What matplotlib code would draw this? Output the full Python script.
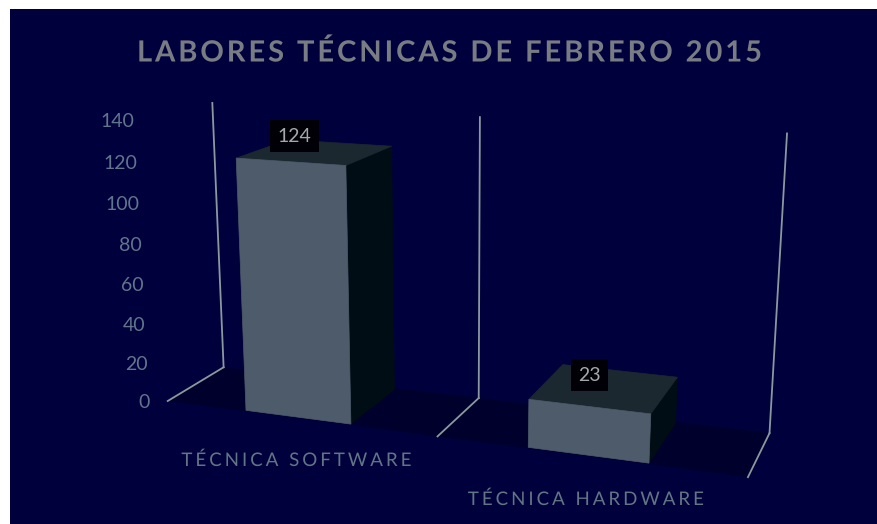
import numpy as np
import matplotlib
matplotlib.use("Agg")
import matplotlib.pyplot as plt
from matplotlib.patches import Polygon, Rectangle
from matplotlib.path import Path
from matplotlib.patheffects import AbstractPathEffect
from matplotlib.transforms import IdentityTransform

WIDTH, HEIGHT = 878, 524

title = "LABORES TÉCNICAS DE FEBRERO 2015"
categories = ["TÉCNICA SOFTWARE", "TÉCNICA HARDWARE"]
values = [124, 23]
ticks = [0, 20, 40, 60, 80, 100, 120, 140]

BG = "#00003c"
FLOOR = "#00002c"
FRONT = "#4d5b6b"
SIDE = "#000d14"
TOP = "#1c2830"
WALL = "#8a9a9c"
TICK_COL = "#60768c"
CAT_COL = "#607684"
TITLE_COL = "#797d83"
LABEL_COL = "#a3a8ab"

BAR_W = 0.195    # half width in category units
D0, D1 = 0.02, 0.96

# camera: world (category, depth, value) -> pixel, solved from the box corners
world_pts = [(0,0,0),(0,1,0),(0,1,140),(1,0,0),(1,1,0),(1,1,140),(2,0,0),(2,1,0),(2,1,140),(0,0,140)]
pixel_pts = [(167,401),(224,367),(212,103),(438,436),(479,398),(480,117),(748,477),(769,434),(787,133),(153,120)]

A = []
for (X, Y, Z), (u, v) in zip(world_pts, pixel_pts):
    A.append([X, Y, Z, 1, 0, 0, 0, 0, -u*X, -u*Y, -u*Z, -u])
    A.append([0, 0, 0, 0, X, Y, Z, 1, -v*X, -v*Y, -v*Z, -v])
P = np.linalg.svd(np.array(A, dtype=float))[2][-1].reshape(3, 4)


def project(x, d, v):
    p = P @ np.array([x, d, v, 1.0])
    return p[0] / p[2], p[1] / p[2]


class Tracked(AbstractPathEffect):
    # matplotlib has no letter spacing: spread the glyphs of a text to a given pixel width
    def __init__(self, width):
        super().__init__()
        self.width = width

    def draw_path(self, renderer, gc, tpath, affine, rgbFace=None):
        verts = affine.transform(tpath.vertices)
        codes = tpath.codes
        starts = list(np.flatnonzero(codes == Path.MOVETO)) + [len(codes)]
        # contours whose x ranges overlap belong to one glyph
        contours = []
        for a, b in zip(starts[:-1], starts[1:]):
            keep = codes[a:b] != Path.CLOSEPOLY
            contours.append((verts[a:b][keep][:, 0].min(), verts[a:b][keep][:, 0].max(), a, b))
        contours.sort()
        height = verts[:, 1].max() - verts[:, 1].min()
        groups = []
        for c in contours:
            if groups and c[0] < groups[-1][1]:
                groups[-1][1] = max(groups[-1][1], c[1])
                groups[-1][2].append(c)
            else:
                groups.append([c[0], c[1], [c]])
        # a word gap takes two units of tracking, a letter gap one
        steps = [0]
        for g0, g1 in zip(groups[:-1], groups[1:]):
            steps.append(steps[-1] + (2 if g1[0] - g0[1] > 0.24 * height else 1))
        old_w = groups[-1][1] - groups[0][0]
        track = (self.width - old_w) / max(steps[-1], 1)
        shift0 = -(self.width - old_w) / 2
        new = verts.copy()
        for g, s in zip(groups, steps):
            for c in g[2]:
                new[c[2]:c[3], 0] += shift0 + s * track
        renderer.draw_path(gc, Path(new, codes), IdentityTransform(), rgbFace)


fig = plt.figure(figsize=(WIDTH / 100, HEIGHT / 100), dpi=100, facecolor="white")
ax = fig.add_axes([0, 0, 1, 1])
ax.set_xlim(0, WIDTH)
ax.set_ylim(HEIGHT, 0)
ax.axis("off")

ax.add_patch(Rectangle((10, 9), WIDTH - 10, HEIGHT - 9, fc=BG, ec="none"))

# floor
n = len(categories)
ax.add_patch(Polygon([project(0, 0, 0), project(0, 1, 0), project(n, 1, 0), project(n, 0, 0)],
                     fc=FLOOR, ec="none"))

# wall lines and floor dividers
for i in range(n + 1):
    ax.plot(*zip(project(i, 1, 0), project(i, 1, ticks[-1])), color=WALL, lw=1.3)
    ax.plot(*zip(project(i, 0, 0), project(i, 1, 0)), color=WALL, lw=1.3)

# bars
bar_centers = [0.495, 1.5]
label_offsets = [(-21, -16), (-15, -13)]
for i, val in enumerate(values):
    x0, x1 = bar_centers[i] - BAR_W, bar_centers[i] + BAR_W
    front = [project(x0, D0, 0), project(x1, D0, 0), project(x1, D0, val), project(x0, D0, val)]
    side = [project(x1, D0, 0), project(x1, D1, 0), project(x1, D1, val), project(x1, D0, val)]
    top = [project(x0, D0, val), project(x1, D0, val), project(x1, D1, val), project(x0, D1, val)]
    ax.add_patch(Polygon(side, fc=SIDE, ec=SIDE, lw=0.5))
    ax.add_patch(Polygon(top, fc=TOP, ec=TOP, lw=0.5))
    ax.add_patch(Polygon(front, fc=FRONT, ec=FRONT, lw=0.5))

    cx, cy = project(bar_centers[i], (D0 + D1) / 2, val)
    ox, oy = label_offsets[i]
    ax.text(cx + ox, cy + oy, str(val), color=LABEL_COL, fontsize=14, family="Lato",
            ha="center", va="center",
            bbox=dict(boxstyle="square,pad=0.37", fc="#000006", ec="none"))

# value ticks run down the front left edge
for t in ticks:
    tx, ty = project(0, 0, t)
    ax.text(tx - 18, ty + 2, str(t), color=TICK_COL, fontsize=14, family="Lato", ha="right", va="center")

# category labels
cat_pos = [(296.5, 460), (586, 499)]
cat_widths = [229, 235]
for name, (cx, cy), w in zip(categories, cat_pos, cat_widths):
    ax.text(cx, cy, name, color=CAT_COL, fontsize=13.5, family="Lato", ha="center", va="center",
            path_effects=[Tracked(w)])

ax.text(449.5, 53, title, color=TITLE_COL, fontsize=21, family="Lato", fontweight="bold",
        ha="center", va="center", path_effects=[Tracked(621)])

fig.savefig("out.png", dpi=100)
